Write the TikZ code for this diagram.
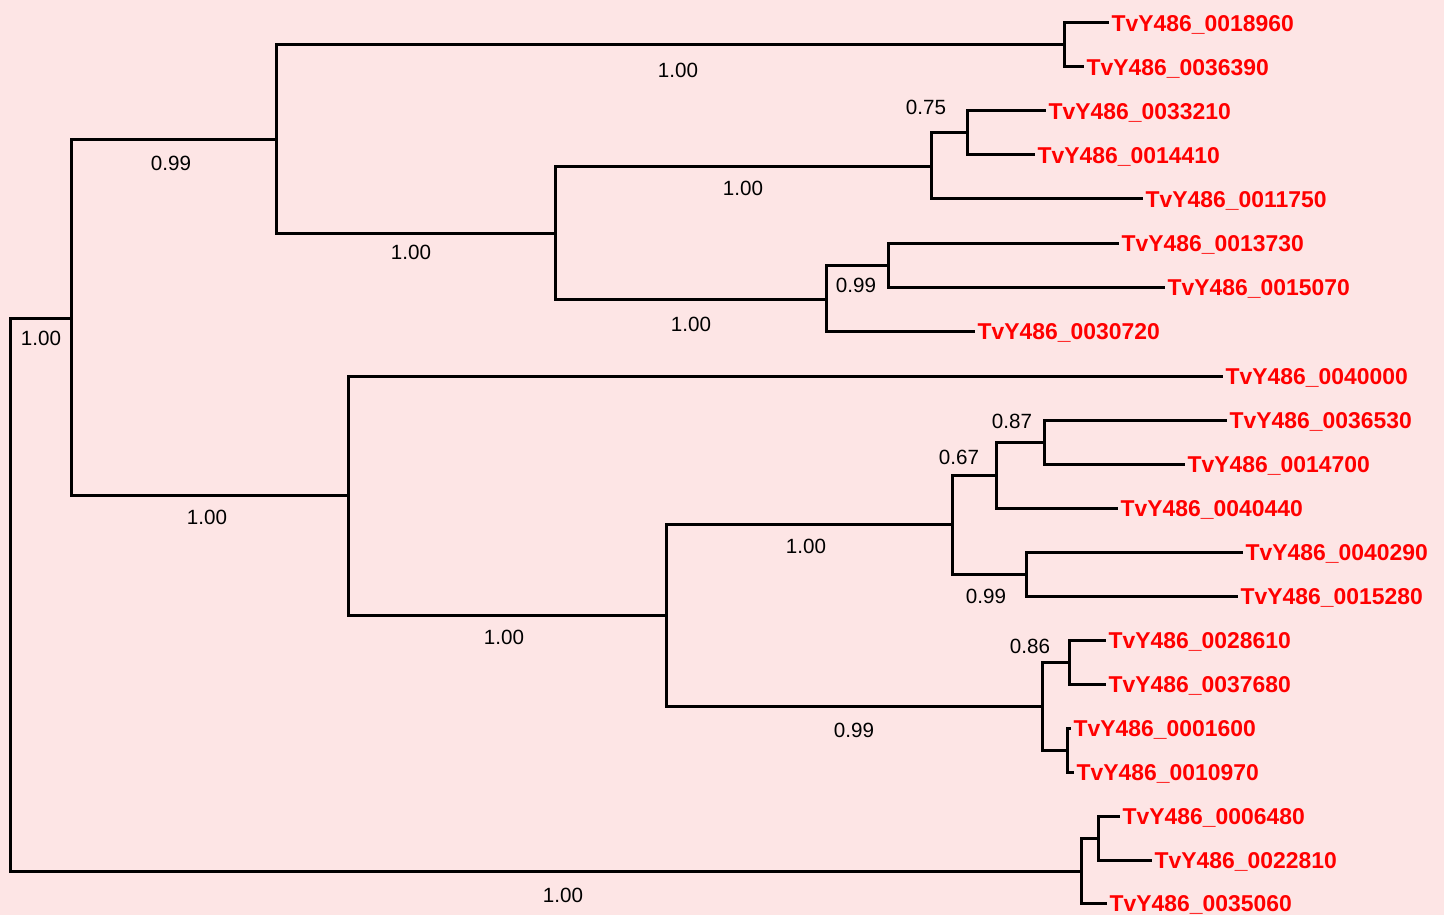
\documentclass[tikz,border=0pt]{standalone}
\usepackage{fontspec}
\setmainfont{Liberation Sans}
\definecolor{bgpink}{RGB}{253,229,229}
\definecolor{leafred}{RGB}{255,0,0}
\begin{document}
\begin{tikzpicture}[x=1pt,y=-1pt,
  branch/.style={line width=3pt,black,line join=miter,line cap=rect},
  leaf/.style={anchor=west,inner xsep=4.5pt,inner ysep=0pt,text height=16.4pt,text depth=0pt,
    text=leafred,font=\fontsize{22.9}{27}\selectfont\bfseries},
  supp/.style={inner sep=0pt,text height=14.7pt,text depth=0pt,text=black,
    font=\fontsize{20.6}{24}\selectfont}]
\useasboundingbox (0,0) rectangle (1444,915);
\fill[bgpink] (0,0) rectangle (1444,915);
% internal nodes
\coordinate (root) at (10,595);
\coordinate (A) at (71,318);
\coordinate (B) at (276,140);
\coordinate (T) at (1064,45);
\coordinate (C) at (555,233);
\coordinate (D) at (931,167);
\coordinate (E) at (967,133);
\coordinate (R) at (826,299);
\coordinate (S) at (888,265);
\coordinate (G) at (348,495);
\coordinate (H) at (666,615);
\coordinate (I) at (952,524);
\coordinate (J) at (996,475);
\coordinate (K) at (1044,442);
\coordinate (L) at (1026,574);
\coordinate (M) at (1042,706);
\coordinate (N) at (1069,662);
\coordinate (O) at (1067,750);
\coordinate (P) at (1081,871);
\coordinate (Q) at (1098,838);
% leaves
\node[leaf] (l1) at (1107,23) {TvY486\_0018960};
\node[leaf] (l2) at (1082,67) {TvY486\_0036390};
\node[leaf] (l3) at (1044,111) {TvY486\_0033210};
\node[leaf] (l4) at (1033,155) {TvY486\_0014410};
\node[leaf] (l5) at (1141,199) {TvY486\_0011750};
\node[leaf] (l6) at (1117,243) {TvY486\_0013730};
\node[leaf] (l7) at (1163,287) {TvY486\_0015070};
\node[leaf] (l8) at (973,331) {TvY486\_0030720};
\node[leaf] (l9) at (1221,376) {TvY486\_0040000};
\node[leaf] (l10) at (1225,420) {TvY486\_0036530};
\node[leaf] (l11) at (1183,464) {TvY486\_0014700};
\node[leaf] (l12) at (1116,508) {TvY486\_0040440};
\node[leaf] (l13) at (1241,552) {TvY486\_0040290};
\node[leaf] (l14) at (1236,596) {TvY486\_0015280};
\node[leaf] (l15) at (1104,640) {TvY486\_0028610};
\node[leaf] (l16) at (1104,684) {TvY486\_0037680};
\node[leaf] (l17) at (1069,728) {TvY486\_0001600};
\node[leaf] (l18) at (1072,772) {TvY486\_0010970};
\node[leaf] (l19) at (1118,816) {TvY486\_0006480};
\node[leaf] (l20) at (1150,860) {TvY486\_0022810};
\node[leaf] (l21) at (1105,903) {TvY486\_0035060};
% branches
\draw[branch] (root) |- (A);
\draw[branch] (root) |- (P);
\draw[branch] (A) |- (B);
\draw[branch] (A) |- (G);
\draw[branch] (B) |- (T);
\draw[branch] (B) |- (C);
\draw[branch] (T) |- (l1.west);
\draw[branch] (T) |- (l2.west);
\draw[branch] (C) |- (D);
\draw[branch] (C) |- (R);
\draw[branch] (D) |- (E);
\draw[branch] (D) |- (l5.west);
\draw[branch] (E) |- (l3.west);
\draw[branch] (E) |- (l4.west);
\draw[branch] (R) |- (S);
\draw[branch] (R) |- (l8.west);
\draw[branch] (S) |- (l6.west);
\draw[branch] (S) |- (l7.west);
\draw[branch] (G) |- (l9.west);
\draw[branch] (G) |- (H);
\draw[branch] (H) |- (I);
\draw[branch] (H) |- (M);
\draw[branch] (I) |- (J);
\draw[branch] (I) |- (L);
\draw[branch] (J) |- (K);
\draw[branch] (J) |- (l12.west);
\draw[branch] (K) |- (l10.west);
\draw[branch] (K) |- (l11.west);
\draw[branch] (L) |- (l13.west);
\draw[branch] (L) |- (l14.west);
\draw[branch] (M) |- (N);
\draw[branch] (M) |- (O);
\draw[branch] (N) |- (l15.west);
\draw[branch] (N) |- (l16.west);
\draw[branch] (O) |- (l17.west);
\draw[branch] (O) |- (l18.west);
\draw[branch] (P) |- (Q);
\draw[branch] (P) |- (l21.west);
\draw[branch] (Q) |- (l19.west);
\draw[branch] (Q) |- (l20.west);
% support values
\node[supp] (s1) at (41,338) {1.00};
\node[supp] (s2) at (171,163) {0.99};
\node[supp] (s3) at (207,517) {1.00};
\node[supp] (s4) at (678,70) {1.00};
\node[supp] (s5) at (411,252) {1.00};
\node[supp] (s6) at (743,188) {1.00};
\node[supp] (s7) at (691,324) {1.00};
\node[supp] (s8) at (926,107) {0.75};
\node[supp] (s9) at (856,285) {0.99};
\node[supp] (s10) at (1012,421) {0.87};
\node[supp] (s11) at (959,457) {0.67};
\node[supp] (s12) at (806,546) {1.00};
\node[supp] (s13) at (986,596) {0.99};
\node[supp] (s14) at (504,637) {1.00};
\node[supp] (s15) at (1030,646) {0.86};
\node[supp] (s16) at (854,730) {0.99};
\node[supp] (s17) at (563,895) {1.00};
\end{tikzpicture}
\end{document}
